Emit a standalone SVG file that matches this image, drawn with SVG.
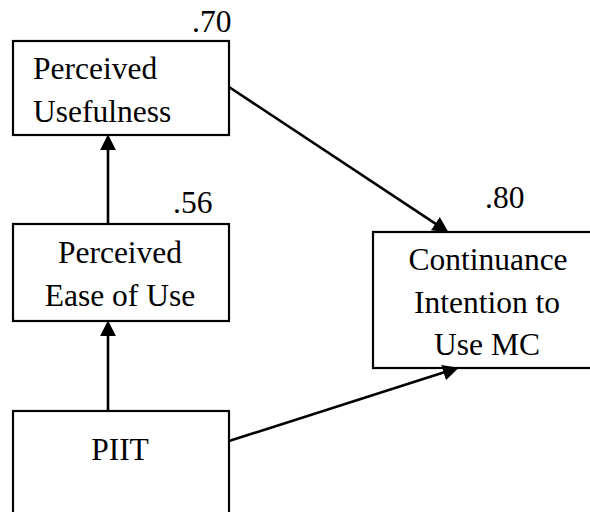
<svg xmlns="http://www.w3.org/2000/svg" width="590" height="512" viewBox="0 0 590 512">
<defs>
<style>
.box{fill:#fff;stroke:#000;stroke-width:2.2}
text{font-family:'Liberation Serif','Times New Roman','DejaVu Serif',serif;font-size:31.5px;fill:#000}
.c{text-anchor:middle}
.e{stroke:#000;stroke-width:2.6;fill:none}
</style>
<marker id="ah" markerUnits="userSpaceOnUse" markerWidth="16" markerHeight="16" viewBox="0 0 15 15" refX="3" refY="7.5" orient="auto">
<path d="M0,0 L15,7.5 L0,15 Z" fill="#000"/>
</marker>
</defs>
<rect width="590" height="512" fill="#fff"/>
<g id="pu">
<rect class="box" x="13" y="41" width="216" height="94"/>
<text x="33" y="79">Perceived</text>
<text x="33" y="122">Usefulness</text>
<text x="192" y="32">.70</text>
</g>
<g id="peou">
<rect class="box" x="13" y="224" width="216" height="97"/>
<text class="c" x="120" y="263">Perceived</text>
<text class="c" x="120" y="306">Ease of Use</text>
<text x="173" y="213">.56</text>
</g>
<g id="piit">
<rect class="box" x="13" y="411" width="216" height="115"/>
<text class="c" x="120" y="460">PIIT</text>
</g>
<g id="ci">
<rect class="box" x="373" y="232" width="230" height="136"/>
<text class="c" x="488" y="270">Continuance</text>
<text class="c" x="487" y="313">Intention to</text>
<text class="c" x="487" y="355">Use MC</text>
<text x="485" y="208">.80</text>
</g>
<g id="connectors">
<line class="e" x1="108" y1="224" x2="108" y2="147" marker-end="url(#ah)"/>
<line class="e" x1="108" y1="411" x2="108" y2="333" marker-end="url(#ah)"/>
<line class="e" x1="229" y1="87" x2="438" y2="225.4" marker-end="url(#ah)"/>
<line class="e" x1="229" y1="441" x2="446.6" y2="371.6" marker-end="url(#ah)"/>
</g>
</svg>
